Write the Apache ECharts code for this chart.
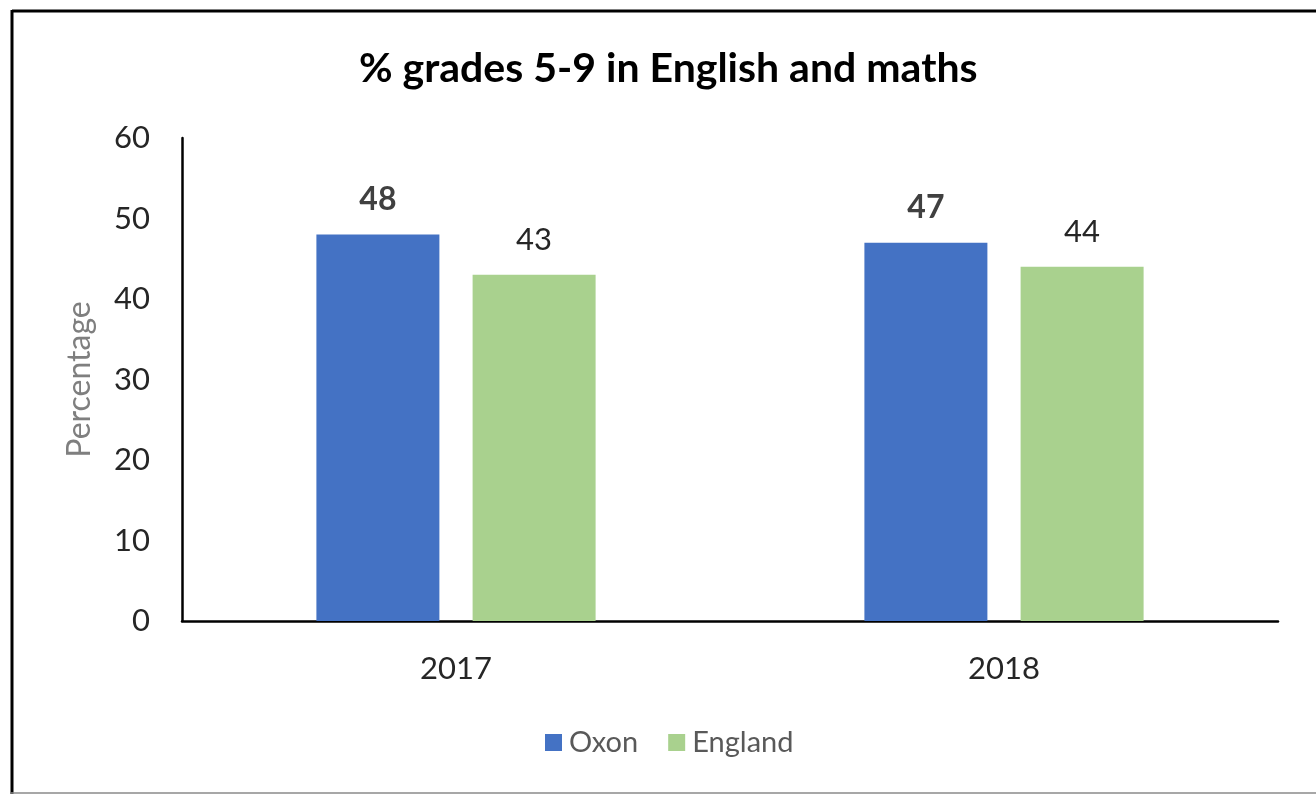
<!DOCTYPE html>
<html>
<head>
<meta charset="utf-8">
<style>
  html, body { margin: 0; padding: 0; background: #fff; }
  #chart { width: 1316px; height: 794px; }
</style>
<script src="https://cdn.jsdelivr.net/npm/echarts@6/dist/echarts.min.js"></script>
</head>
<body>
<div id="chart"></div>
<script>
// Percentage of pupils achieving grades 5-9 in English and maths
const years = ['2017', '2018'];
const oxon = [48, 47];
const england = [43, 44];
const yTicks = { min: 0, max: 60, interval: 10 };

const FONT = 'Lato, "Open Sans", "Liberation Sans", sans-serif';

const chart = echarts.init(document.getElementById('chart'), null, { renderer: 'canvas' });

chart.setOption({
  backgroundColor: '#ffffff',
  animation: false,
  title: {
    text: '% grades 5-9 in English and maths',
    left: 354,
    top: 43,
    textStyle: { fontFamily: FONT, fontSize: 41, fontWeight: 'bold', color: '#000000' }
  },
  legend: {
    bottom: 32,
    left: 540,
    itemWidth: 17,
    itemHeight: 17,
    itemGap: 30,
    icon: 'rect',
    textStyle: { fontFamily: FONT, fontSize: 29, color: '#595959', padding: [0, 0, 0, 2] },
    data: ['Oxon', 'England']
  },
  grid: { left: 182, right: 38, top: 138, bottom: 173, containLabel: false },
  xAxis: {
    type: 'category',
    data: years,
    axisLine: { lineStyle: { color: '#000000', width: 2.5 } },
    axisTick: { show: false },
    axisLabel: { fontFamily: FONT, fontSize: 31, color: '#262626', margin: 32 }
  },
  yAxis: {
    type: 'value',
    min: yTicks.min,
    max: yTicks.max,
    interval: yTicks.interval,
    name: 'Percentage',
    nameLocation: 'middle',
    nameGap: 86,
    nameTextStyle: { fontFamily: FONT, fontSize: 32, color: '#7f7f7f' },
    axisLine: { show: true, lineStyle: { color: '#000000', width: 2.5 } },
    axisTick: { show: false },
    splitLine: { show: false },
    axisLabel: { fontFamily: FONT, fontSize: 31, color: '#262626', margin: 32 }
  },
  series: [
    {
      name: 'Oxon',
      type: 'bar',
      data: oxon,
      barWidth: 123,
      barGap: '27%',
      itemStyle: { color: '#4472C4' },
      label: {
        show: true, position: 'top', distance: 19,
        fontFamily: FONT, fontSize: 32, fontWeight: 'bold', color: '#404040'
      }
    },
    {
      name: 'England',
      type: 'bar',
      data: england,
      barWidth: 123,
      itemStyle: { color: '#A9D18E' },
      label: {
        show: true, position: 'top', distance: 19,
        fontFamily: FONT, fontSize: 31, color: '#262626'
      }
    }
  ],
  graphic: [
    // chart frame: heavy left and top edges, light bottom edge
    { type: 'line', shape: { x1: 12, y1: 11, x2: 1316, y2: 11 }, style: { stroke: '#000', lineWidth: 3 } },
    { type: 'line', shape: { x1: 12, y1: 10, x2: 12, y2: 794 }, style: { stroke: '#000', lineWidth: 3 } },
    { type: 'line', shape: { x1: 11, y1: 793, x2: 1316, y2: 793 }, style: { stroke: '#8a8a8a', lineWidth: 1.5 } }
  ]
});
</script>
</body>
</html>
